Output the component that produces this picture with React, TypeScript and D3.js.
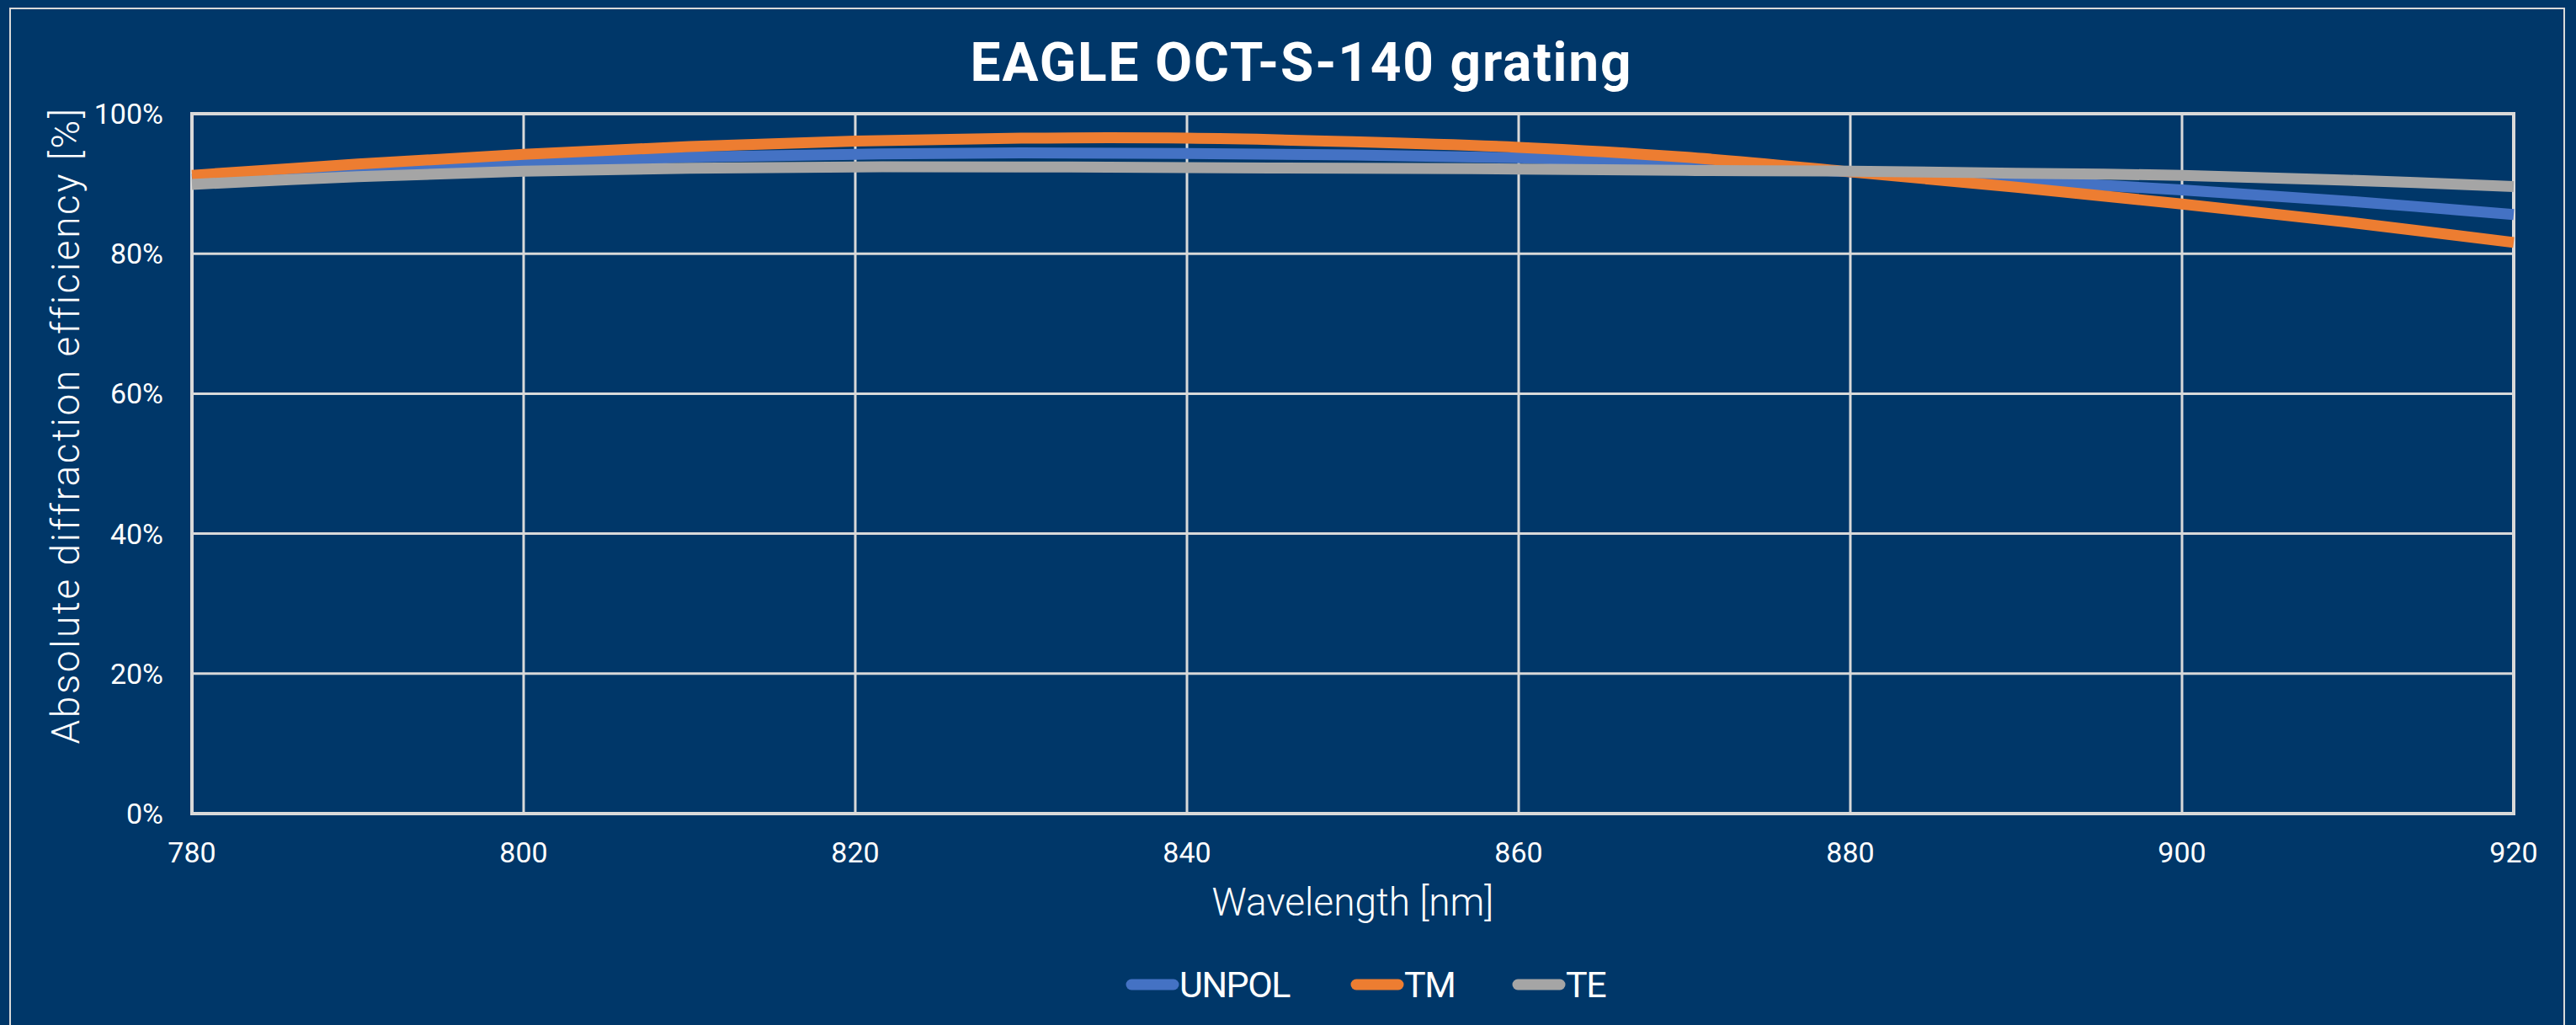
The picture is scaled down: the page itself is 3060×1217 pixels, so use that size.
import { useEffect, useRef } from "react"
import * as d3 from "d3"

const wavelengths = [780, 790, 800, 810, 820, 830, 840, 850, 860, 870, 880, 890, 900, 910, 920]
const unpol = [90.6, 91.9, 93.0, 93.8, 94.2, 94.4, 94.3, 94.1, 93.7, 92.9, 91.7, 90.5, 89.1, 87.5, 85.6]
const tm = [91.2, 92.8, 94.2, 95.3, 96.1, 96.5, 96.5, 96.0, 95.2, 93.8, 91.7, 89.5, 87.1, 84.5, 81.6]
const te = [89.9, 91.0, 91.8, 92.2, 92.4, 92.4, 92.3, 92.2, 92.1, 91.9, 91.8, 91.5, 91.2, 90.5, 89.6]

const seriesNames = ["UNPOL", "TM", "TE"]
const seriesColors = ["#4472c4", "#ed7d31", "#a5a5a5"]
const xTicks = [780, 800, 820, 840, 860, 880, 900, 920]
const yTicks = [0, 20, 40, 60, 80, 100]

const App = () => {
  const svgRef = useRef<SVGSVGElement>(null)

  useEffect(() => {
    const width = 3060
    const height = 1217
    const margin = { top: 135, right: 74, bottom: 251, left: 228 }
    const bg = "#003769"
    const grid = "#d9d9d9"
    const font = "Roboto, 'Noto Sans', sans-serif"

    const svg = d3.select(svgRef.current)
    svg.selectAll("*").remove()
    svg.attr("width", width).attr("height", height)

    svg.append("rect").attr("width", width).attr("height", height).attr("fill", bg)
    // outer frame
    svg
      .append("rect")
      .attr("x", 12)
      .attr("y", 10)
      .attr("width", 3034)
      .attr("height", 1240)
      .attr("fill", "none")
      .attr("stroke", grid)
      .attr("stroke-width", 2)

    const x = d3.scaleLinear().domain([780, 920]).range([margin.left, width - margin.right])
    const y = d3.scaleLinear().domain([0, 100]).range([height - margin.bottom, margin.top])

    // grid
    svg
      .append("g")
      .selectAll("line")
      .data(xTicks)
      .enter()
      .append("line")
      .attr("x1", (d) => x(d))
      .attr("x2", (d) => x(d))
      .attr("y1", y(0))
      .attr("y2", y(100))
      .attr("stroke", grid)
      .attr("stroke-width", 3)
    svg
      .append("g")
      .selectAll("line")
      .data(yTicks)
      .enter()
      .append("line")
      .attr("x1", x(780))
      .attr("x2", x(920))
      .attr("y1", (d) => y(d))
      .attr("y2", (d) => y(d))
      .attr("stroke", grid)
      .attr("stroke-width", 3)
    svg
      .append("rect")
      .attr("x", x(780))
      .attr("y", y(100))
      .attr("width", x(920) - x(780))
      .attr("height", y(0) - y(100))
      .attr("fill", "none")
      .attr("stroke", grid)
      .attr("stroke-width", 4)

    // lines
    const all = [unpol, tm, te]
    const line = d3
      .line<number>()
      .x((_, i) => x(wavelengths[i]))
      .y((d) => y(d))
      .curve(d3.curveCatmullRom)
    all.forEach((vals, i) => {
      svg
        .append("path")
        .attr("d", line(vals))
        .attr("fill", "none")
        .attr("stroke", seriesColors[i])
        .attr("stroke-width", 13)
    })

    // tick labels
    svg
      .append("g")
      .selectAll("text")
      .data(yTicks)
      .enter()
      .append("text")
      .attr("x", x(780) - 34)
      .attr("y", (d) => y(d))
      .attr("dy", "0.35em")
      .attr("text-anchor", "end")
      .attr("fill", "#fff")
      .style("font-family", font)
      .style("font-size", "34px")
      .text((d) => `${d}%`)
    svg
      .append("g")
      .selectAll("text")
      .data(xTicks)
      .enter()
      .append("text")
      .attr("x", (d) => x(d))
      .attr("y", 1012)
      .attr("dy", "0.35em")
      .attr("text-anchor", "middle")
      .attr("fill", "#fff")
      .style("font-family", font)
      .style("font-size", "34px")
      .text((d) => d)

    // titles
    svg
      .append("text")
      .attr("x", 1546)
      .attr("y", 74)
      .attr("dy", "0.35em")
      .attr("text-anchor", "middle")
      .attr("fill", "#fff")
      .style("font-family", font)
      .style("font-weight", "bold")
      .style("font-size", "64px")
      .style("letter-spacing", "1.8px")
      .text("EAGLE OCT-S-140 grating")
    svg
      .append("text")
      .attr("x", (x(780) + x(920)) / 2)
      .attr("y", 1071)
      .attr("dy", "0.35em")
      .attr("text-anchor", "middle")
      .attr("fill", "#fff")
      .style("font-family", font)
      .style("font-weight", 300)
      .style("font-size", "46px")
      .text("Wavelength [nm]")
    svg
      .append("text")
      .attr("transform", "translate(78,505) rotate(-90)")
      .attr("dy", "0.35em")
      .attr("text-anchor", "middle")
      .attr("fill", "#fff")
      .style("font-family", font)
      .style("font-weight", 300)
      .style("font-size", "46px")
      .style("letter-spacing", "2.6px")
      .text("Absolute diffraction efficiency [%]")

    // legend
    const legendX = [1338, 1605, 1797]
    const legend = svg
      .append("g")
      .selectAll("g")
      .data(seriesNames)
      .enter()
      .append("g")
      .attr("transform", (_, i) => `translate(${legendX[i]},1169)`)
    legend
      .append("line")
      .attr("x1", 6)
      .attr("x2", 56)
      .attr("stroke", (_, i) => seriesColors[i])
      .attr("stroke-width", 13)
      .attr("stroke-linecap", "round")
    legend
      .append("text")
      .attr("x", 63)
      .attr("dy", "0.35em")
      .attr("fill", "#fff")
      .style("font-family", font)
      .style("font-size", "43px")
      .style("letter-spacing", "-1.5px")
      .text((d) => d)
  }, [])

  return (
    <div>
      <style>{`body{margin:0}`}</style>
      <svg ref={svgRef} style={{ display: "block" }}></svg>
    </div>
  )
}

export default App
